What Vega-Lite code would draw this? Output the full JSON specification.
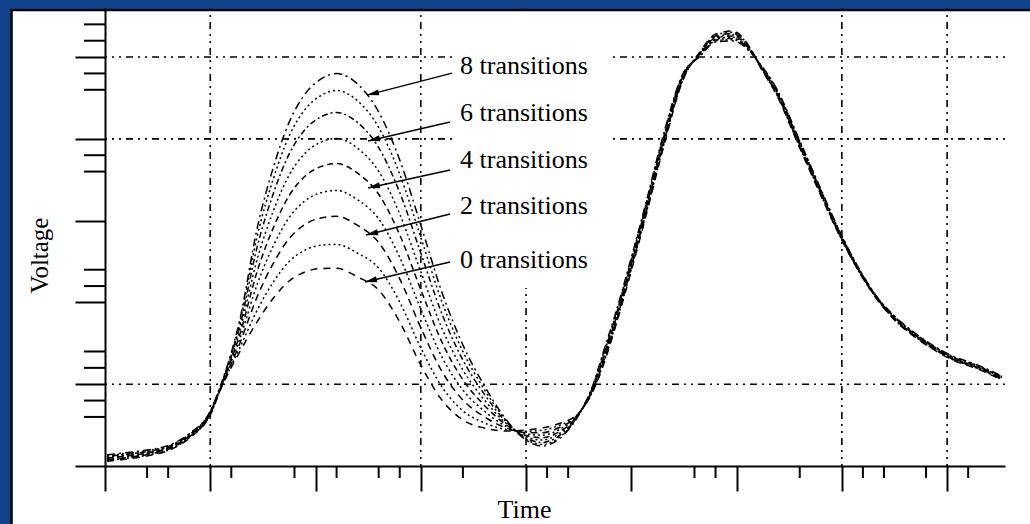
{
  "$schema": "https://vega.github.io/schema/vega-lite/v6.json",
  "width": 900,
  "height": 458,
  "autosize": {"type": "none"},
  "padding": {"left": 105, "top": 8, "right": 25, "bottom": 58},
  "background": "#12428c",
  "config": {
    "view": {"stroke": null},
    "axis": {"domainColor": "black", "tickColor": "black", "titleColor": "black", "titleFont": "Liberation Serif", "titleFontWeight": "normal", "grid": false}
  },
  "datasets": {
    "curves": [
      {"t": 0.02, "c0": 0.058, "c1": 0.068, "c2": 0.078, "c3": 0.088, "c4": 0.098, "c5": 0.108, "c6": 0.118, "c7": 0.128, "c8": 0.138},
      {"t": 0.2, "c0": 0.082, "c1": 0.092, "c2": 0.102, "c3": 0.112, "c4": 0.122, "c5": 0.132, "c6": 0.142, "c7": 0.152, "c8": 0.162},
      {"t": 0.4, "c0": 0.123, "c1": 0.132, "c2": 0.141, "c3": 0.150, "c4": 0.159, "c5": 0.168, "c6": 0.177, "c7": 0.186, "c8": 0.195},
      {"t": 0.6, "c0": 0.188, "c1": 0.196, "c2": 0.204, "c3": 0.212, "c4": 0.220, "c5": 0.228, "c6": 0.236, "c7": 0.244, "c8": 0.252},
      {"t": 0.8, "c0": 0.339, "c1": 0.346, "c2": 0.353, "c3": 0.360, "c4": 0.367, "c5": 0.374, "c6": 0.381, "c7": 0.388, "c8": 0.395},
      {"t": 1.0, "c0": 0.624, "c1": 0.630, "c2": 0.636, "c3": 0.642, "c4": 0.648, "c5": 0.654, "c6": 0.660, "c7": 0.666, "c8": 0.672},
      {"t": 1.1, "c0": 0.942, "c1": 0.948, "c2": 0.954, "c3": 0.960, "c4": 0.966, "c5": 0.972, "c6": 0.978, "c7": 0.984, "c8": 0.990},
      {"t": 1.28, "c0": 1.394, "c1": 1.442, "c2": 1.498, "c3": 1.550, "c4": 1.604, "c5": 1.655, "c6": 1.707, "c7": 1.751, "c8": 1.785},
      {"t": 1.45, "c0": 1.773, "c1": 1.916, "c2": 2.083, "c3": 2.237, "c4": 2.398, "c5": 2.547, "c6": 2.702, "c7": 2.833, "c8": 2.934},
      {"t": 1.6, "c0": 2.054, "c1": 2.251, "c2": 2.481, "c3": 2.694, "c4": 2.915, "c5": 3.122, "c6": 3.335, "c7": 3.516, "c8": 3.655},
      {"t": 1.75, "c0": 2.262, "c1": 2.501, "c2": 2.781, "c3": 3.039, "c4": 3.307, "c5": 3.558, "c6": 3.816, "c7": 4.036, "c8": 4.205},
      {"t": 1.9, "c0": 2.372, "c1": 2.640, "c2": 2.953, "c3": 3.242, "c4": 3.543, "c5": 3.823, "c6": 4.113, "c7": 4.359, "c8": 4.548},
      {"t": 2.05, "c0": 2.414, "c1": 2.699, "c2": 3.033, "c3": 3.341, "c4": 3.661, "c5": 3.959, "c6": 4.268, "c7": 4.529, "c8": 4.731},
      {"t": 2.2, "c0": 2.417, "c1": 2.710, "c2": 3.053, "c3": 3.369, "c4": 3.698, "c5": 4.005, "c6": 4.322, "c7": 4.591, "c8": 4.798},
      {"t": 2.4, "c0": 2.311, "c1": 2.601, "c2": 2.941, "c3": 3.255, "c4": 3.580, "c5": 3.884, "c6": 4.198, "c7": 4.465, "c8": 4.670},
      {"t": 2.6, "c0": 2.152, "c1": 2.420, "c2": 2.733, "c3": 3.022, "c4": 3.323, "c5": 3.603, "c6": 3.893, "c7": 4.139, "c8": 4.328},
      {"t": 2.8, "c0": 1.760, "c1": 2.004, "c2": 2.289, "c3": 2.552, "c4": 2.826, "c5": 3.081, "c6": 3.345, "c7": 3.569, "c8": 3.741},
      {"t": 3.0, "c0": 1.235, "c1": 1.445, "c2": 1.692, "c3": 1.919, "c4": 2.156, "c5": 2.376, "c6": 2.604, "c7": 2.797, "c8": 2.946},
      {"t": 3.2, "c0": 0.807, "c1": 0.969, "c2": 1.159, "c3": 1.335, "c4": 1.517, "c5": 1.687, "c6": 1.863, "c7": 2.012, "c8": 2.127},
      {"t": 3.4, "c0": 0.562, "c1": 0.675, "c2": 0.807, "c3": 0.929, "c4": 1.055, "c5": 1.174, "c6": 1.296, "c7": 1.399, "c8": 1.479},
      {"t": 3.6, "c0": 0.465, "c1": 0.530, "c2": 0.605, "c3": 0.675, "c4": 0.747, "c5": 0.815, "c6": 0.885, "c7": 0.944, "c8": 0.990},
      {"t": 3.8, "c0": 0.428, "c1": 0.448, "c2": 0.470, "c3": 0.492, "c4": 0.514, "c5": 0.534, "c6": 0.555, "c7": 0.573, "c8": 0.587},
      {"t": 4.0, "c0": 0.440, "c1": 0.425, "c2": 0.407, "c3": 0.391, "c4": 0.374, "c5": 0.359, "c6": 0.342, "c7": 0.329, "c8": 0.318},
      {"t": 4.15, "c0": 0.465, "c1": 0.438, "c2": 0.406, "c3": 0.377, "c4": 0.346, "c5": 0.318, "c6": 0.288, "c7": 0.263, "c8": 0.244},
      {"t": 4.3, "c0": 0.513, "c1": 0.489, "c2": 0.461, "c3": 0.435, "c4": 0.408, "c5": 0.383, "c6": 0.357, "c7": 0.335, "c8": 0.318},
      {"t": 4.5, "c0": 0.648, "c1": 0.645, "c2": 0.641, "c3": 0.638, "c4": 0.635, "c5": 0.631, "c6": 0.628, "c7": 0.625, "c8": 0.623},
      {"t": 4.64, "c0": 0.926, "c1": 0.936, "c2": 0.946, "c3": 0.956, "c4": 0.966, "c5": 0.976, "c6": 0.986, "c7": 0.996, "c8": 1.006},
      {"t": 4.73, "c0": 1.216, "c1": 1.236, "c2": 1.256, "c3": 1.276, "c4": 1.296, "c5": 1.316, "c6": 1.336, "c7": 1.356, "c8": 1.376},
      {"t": 4.85, "c0": 1.705, "c1": 1.725, "c2": 1.745, "c3": 1.765, "c4": 1.785, "c5": 1.805, "c6": 1.825, "c7": 1.845, "c8": 1.865},
      {"t": 4.99, "c0": 2.341, "c1": 2.361, "c2": 2.381, "c3": 2.401, "c4": 2.421, "c5": 2.441, "c6": 2.461, "c7": 2.481, "c8": 2.501},
      {"t": 5.13, "c0": 3.013, "c1": 3.033, "c2": 3.053, "c3": 3.073, "c4": 3.093, "c5": 3.113, "c6": 3.133, "c7": 3.153, "c8": 3.173},
      {"t": 5.30, "c0": 3.869, "c1": 3.889, "c2": 3.909, "c3": 3.929, "c4": 3.949, "c5": 3.969, "c6": 3.989, "c7": 4.009, "c8": 4.029},
      {"t": 5.49, "c0": 4.716, "c1": 4.726, "c2": 4.736, "c3": 4.746, "c4": 4.756, "c5": 4.766, "c6": 4.776, "c7": 4.786, "c8": 4.796},
      {"t": 5.65, "c0": 5.061, "c1": 5.054, "c2": 5.047, "c3": 5.040, "c4": 5.033, "c5": 5.026, "c6": 5.019, "c7": 5.012, "c8": 5.005},
      {"t": 5.80, "c0": 5.281, "c1": 5.269, "c2": 5.257, "c3": 5.245, "c4": 5.233, "c5": 5.221, "c6": 5.209, "c7": 5.197, "c8": 5.185},
      {"t": 5.96, "c0": 5.318, "c1": 5.303, "c2": 5.288, "c3": 5.273, "c4": 5.258, "c5": 5.243, "c6": 5.228, "c7": 5.213, "c8": 5.198},
      {"t": 6.13, "c0": 5.110, "c1": 5.104, "c2": 5.098, "c3": 5.092, "c4": 5.086, "c5": 5.080, "c6": 5.074, "c7": 5.068, "c8": 5.062},
      {"t": 6.22, "c0": 4.890, "c1": 4.894, "c2": 4.898, "c3": 4.902, "c4": 4.906, "c5": 4.910, "c6": 4.914, "c7": 4.918, "c8": 4.922},
      {"t": 6.39, "c0": 4.511, "c1": 4.521, "c2": 4.531, "c3": 4.541, "c4": 4.551, "c5": 4.561, "c6": 4.571, "c7": 4.581, "c8": 4.591},
      {"t": 6.58, "c0": 3.949, "c1": 3.960, "c2": 3.971, "c3": 3.982, "c4": 3.993, "c5": 4.004, "c6": 4.015, "c7": 4.026, "c8": 4.037},
      {"t": 6.79, "c0": 3.337, "c1": 3.347, "c2": 3.357, "c3": 3.367, "c4": 3.377, "c5": 3.387, "c6": 3.397, "c7": 3.407, "c8": 3.417},
      {"t": 6.98, "c0": 2.812, "c1": 2.819, "c2": 2.826, "c3": 2.833, "c4": 2.840, "c5": 2.847, "c6": 2.854, "c7": 2.861, "c8": 2.868},
      {"t": 7.17, "c0": 2.359, "c1": 2.364, "c2": 2.369, "c3": 2.374, "c4": 2.379, "c5": 2.384, "c6": 2.389, "c7": 2.394, "c8": 2.399},
      {"t": 7.36, "c0": 1.993, "c1": 1.997, "c2": 2.001, "c3": 2.005, "c4": 2.009, "c5": 2.013, "c6": 2.017, "c7": 2.021, "c8": 2.025},
      {"t": 7.49, "c0": 1.798, "c1": 1.804, "c2": 1.810, "c3": 1.816, "c4": 1.822, "c5": 1.828, "c6": 1.834, "c7": 1.840, "c8": 1.846},
      {"t": 7.72, "c0": 1.553, "c1": 1.559, "c2": 1.565, "c3": 1.571, "c4": 1.577, "c5": 1.583, "c6": 1.589, "c7": 1.595, "c8": 1.601},
      {"t": 7.91, "c0": 1.394, "c1": 1.400, "c2": 1.406, "c3": 1.412, "c4": 1.418, "c5": 1.424, "c6": 1.430, "c7": 1.436, "c8": 1.442},
      {"t": 8.03, "c0": 1.309, "c1": 1.315, "c2": 1.321, "c3": 1.327, "c4": 1.333, "c5": 1.339, "c6": 1.345, "c7": 1.351, "c8": 1.357},
      {"t": 8.29, "c0": 1.186, "c1": 1.192, "c2": 1.198, "c3": 1.204, "c4": 1.210, "c5": 1.216, "c6": 1.222, "c7": 1.228, "c8": 1.234},
      {"t": 8.52, "c0": 1.052, "c1": 1.058, "c2": 1.064, "c3": 1.070, "c4": 1.076, "c5": 1.082, "c6": 1.088, "c7": 1.094, "c8": 1.100}
    ],
    "labels": [
      {"label": "8 transitions", "tx": 3.373, "ty": 4.890, "bx": 3.297, "by": 4.804, "ax": 2.489, "ay": 4.535},
      {"label": "6 transitions", "tx": 3.373, "ty": 4.315, "bx": 3.278, "by": 4.205, "ax": 2.499, "ay": 3.973},
      {"label": "4 transitions", "tx": 3.373, "ty": 3.741, "bx": 3.278, "by": 3.619, "ax": 2.499, "ay": 3.399},
      {"label": "2 transitions", "tx": 3.373, "ty": 3.178, "bx": 3.278, "by": 3.081, "ax": 2.480, "ay": 2.824},
      {"label": "0 transitions", "tx": 3.373, "ty": 2.518, "bx": 3.278, "by": 2.494, "ax": 2.470, "ay": 2.249}
    ]
  },
  "layer": [
    {
      "data": {"values": [{"left": -0.888, "right": 9.5, "top": 5.577, "bottom": -1}]},
      "mark": {"type": "rect", "fill": "white", "stroke": "black", "strokeWidth": 2.5},
      "encoding": {
        "x": {"field": "left", "type": "quantitative", "scale": {"domain": [0, 8.55], "nice": false, "zero": false}},
        "x2": {"field": "right"},
        "y": {"field": "top", "type": "quantitative", "scale": {"domain": [0, 5.6], "nice": false, "zero": false}},
        "y2": {"field": "bottom"}
      }
    },
    {
      "data": {"values": [{"g": 1}, {"g": 3}, {"g": 4}, {"g": 7}, {"g": 8}]},
      "mark": {"type": "rule", "color": "black", "strokeWidth": 1.6, "strokeDash": [2, 5, 2, 5, 7, 5]},
      "encoding": {
        "x": {"field": "g", "type": "quantitative"}
      }
    },
    {
      "data": {"values": [{"g": 1}, {"g": 4}, {"g": 5}]},
      "mark": {"type": "rule", "color": "black", "strokeWidth": 1.6, "strokeDash": [2, 5, 2, 5, 7, 5]},
      "encoding": {
        "y": {"field": "g", "type": "quantitative"}
      }
    },
    {
      "data": {"values": [{"m": 0.4}, {"m": 0.6}, {"m": 1.2}, {"m": 1.8}, {"m": 2.2}, {"m": 2.6}, {"m": 2.8}, {"m": 3.4}, {"m": 4.2}, {"m": 4.4}, {"m": 5.6}, {"m": 5.8}, {"m": 6.6}, {"m": 7.2}, {"m": 7.4}, {"m": 7.8}, {"m": 8.2}]},
      "mark": {"type": "rule", "color": "black", "strokeWidth": 2},
      "encoding": {
        "x": {"field": "m", "type": "quantitative"},
        "y": {"datum": 0},
        "y2": {"datum": -0.147}
      }
    },
    {
      "data": {"values": [{"m": 0.6}, {"m": 0.8}, {"m": 1.2}, {"m": 1.4}, {"m": 2.2}, {"m": 2.4}, {"m": 3.6}, {"m": 3.8}, {"m": 4.6}, {"m": 4.8}, {"m": 5.2}, {"m": 5.4}]},
      "mark": {"type": "rule", "color": "black", "strokeWidth": 2},
      "encoding": {
        "y": {"field": "m", "type": "quantitative"},
        "x": {"datum": 0},
        "x2": {"datum": -0.2}
      }
    },
    {
      "data": {"values": [{"left": 3.306, "right": 4.8, "top": 5.55, "bottom": 2.176}]},
      "mark": {"type": "rect", "fill": "white"},
      "encoding": {
        "x": {"field": "left", "type": "quantitative"},
        "x2": {"field": "right"},
        "y": {"field": "top", "type": "quantitative"},
        "y2": {"field": "bottom"}
      }
    },
    {
      "data": {"name": "curves"},
      "transform": [{"fold": ["c0", "c1", "c2", "c3", "c4", "c5", "c6", "c7", "c8"], "as": ["curve", "v"]}],
      "mark": {"type": "line", "color": "black", "strokeWidth": 1.5, "interpolate": "monotone"},
      "encoding": {
        "x": {"field": "t", "type": "quantitative", "scale": {"domain": [0, 8.55], "nice": false, "zero": false},
          "axis": {"orient": "bottom", "values": [0, 1, 2, 3, 4, 5, 6, 7, 8], "tickSize": 25, "tickWidth": 2, "domainWidth": 2, "labels": false, "title": "Time", "titleFontSize": 26, "titleX": 419, "titleY": 51, "titleBaseline": "alphabetic", "titleAlign": "center", "grid": false, "zindex": 1}},
        "y": {"field": "v", "type": "quantitative", "scale": {"domain": [0, 5.6], "nice": false, "zero": false},
          "axis": {"orient": "left", "values": [0, 1, 2, 3, 4, 5], "tickSize": 30, "tickWidth": 2, "domainWidth": 2, "labels": false, "title": "Voltage", "titleFontSize": 25, "titleX": -53, "titleY": 247, "titleBaseline": "bottom", "titleAlign": "center", "titleAngle": -90, "grid": false, "zindex": 1}},
        "strokeDash": {"field": "curve", "type": "nominal", "legend": null,
          "scale": {"domain": ["c0", "c1", "c2", "c3", "c4", "c5", "c6", "c7", "c8"], "range": [[7, 6], [2, 3], [7, 5], [2, 3], [6, 4], [2, 3], [2, 3, 6, 3], [2, 3], [8, 4, 2, 4]]}}
      }
    },
    {
      "data": {"name": "labels"},
      "mark": {"type": "rule", "color": "black", "strokeWidth": 1.5},
      "encoding": {
        "x": {"field": "bx", "type": "quantitative"},
        "y": {"field": "by", "type": "quantitative"},
        "x2": {"field": "ax"},
        "y2": {"field": "ay"}
      }
    },
    {
      "data": {"name": "labels"},
      "mark": {"type": "point", "shape": "M 0 0 L 2 -0.5 L 2 0.5 Z", "size": 144, "filled": true, "color": "black", "opacity": 1, "angle": 346.5},
      "encoding": {
        "x": {"field": "ax", "type": "quantitative"},
        "y": {"field": "ay", "type": "quantitative"}
      }
    },
    {
      "data": {"name": "labels"},
      "mark": {"type": "text", "align": "left", "baseline": "middle", "font": "Liberation Serif", "fontSize": 26, "color": "black"},
      "encoding": {
        "x": {"field": "tx", "type": "quantitative"},
        "y": {"field": "ty", "type": "quantitative"},
        "text": {"field": "label"}
      }
    },
    {
      "data": {"values": [{"left": -1.2, "right": -0.901, "top": 5.8, "bottom": -1}]},
      "mark": {"type": "rect", "fill": "#12428c"},
      "encoding": {
        "x": {"field": "left", "type": "quantitative"},
        "x2": {"field": "right"},
        "y": {"field": "top", "type": "quantitative"},
        "y2": {"field": "bottom"}
      }
    },
    {
      "data": {"values": [{"left": -1.2, "right": 9.5, "top": 5.8, "bottom": 5.595}]},
      "mark": {"type": "rect", "fill": "#12428c"},
      "encoding": {
        "x": {"field": "left", "type": "quantitative"},
        "x2": {"field": "right"},
        "y": {"field": "top", "type": "quantitative"},
        "y2": {"field": "bottom"}
      }
    }
  ]
}
